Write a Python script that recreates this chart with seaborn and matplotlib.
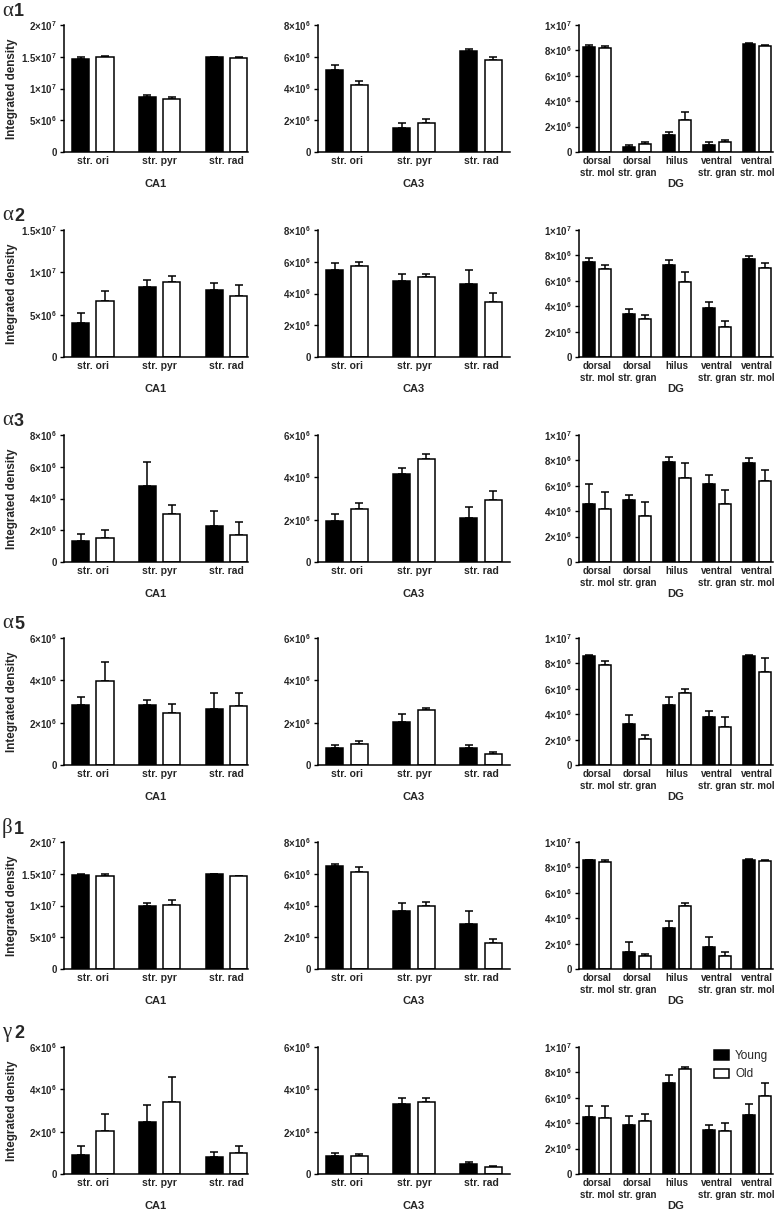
import numpy as np
import pandas as pd
import matplotlib
matplotlib.use("Agg")
import matplotlib.pyplot as plt
import seaborn as sns
from matplotlib.patches import Patch
from matplotlib.ticker import FuncFormatter

sns.set_theme(style="ticks")
plt.rcParams['font.family'] = ['Liberation Sans', 'DejaVu Sans']
plt.rcParams['mathtext.default'] = 'regular'

# ---------------- data (values in units of 1e6) ----------------
subunits = ["α1", "α2", "α3", "α5", "β1", "γ2"]
areas = ["CA1", "CA3", "DG"]
groups = ["Young", "Old"]
ca_regions = ["str. ori", "str. pyr", "str. rad"]
dg_regions = ["dorsal\nstr. mol", "dorsal\nstr. gran", "hilus",
              "ventral\nstr. gran", "ventral\nstr. mol"]

# alpha1
a1_ca1_young = [14.7, 8.7, 14.9];  a1_ca1_young_sem = [0.3, 0.3, 0.1]
a1_ca1_old = [14.9, 8.3, 14.8];    a1_ca1_old_sem = [0.15, 0.3, 0.2]
a1_ca3_young = [5.15, 1.5, 6.35];  a1_ca3_young_sem = [0.3, 0.3, 0.15]
a1_ca3_old = [4.2, 1.85, 5.8];     a1_ca3_old_sem = [0.3, 0.25, 0.2]
a1_dg_young = [8.3, 0.4, 1.3, 0.55, 8.5];  a1_dg_young_sem = [0.1, 0.15, 0.3, 0.2, 0.05]
a1_dg_old = [8.2, 0.6, 2.55, 0.8, 8.35];   a1_dg_old_sem = [0.15, 0.15, 0.6, 0.15, 0.1]
# alpha2
a2_ca1_young = [4.0, 8.3, 7.9];    a2_ca1_young_sem = [1.2, 0.75, 0.85]
a2_ca1_old = [6.6, 8.8, 7.2];      a2_ca1_old_sem = [1.2, 0.8, 1.3]
a2_ca3_young = [5.5, 4.8, 4.6];    a2_ca3_young_sem = [0.45, 0.45, 0.9]
a2_ca3_old = [5.75, 5.05, 3.45];   a2_ca3_old_sem = [0.25, 0.2, 0.6]
a2_dg_young = [7.45, 3.4, 7.25, 3.85, 7.7];  a2_dg_young_sem = [0.35, 0.35, 0.4, 0.45, 0.25]
a2_dg_old = [6.9, 3.0, 5.9, 2.4, 7.0];       a2_dg_old_sem = [0.35, 0.3, 0.8, 0.4, 0.4]
# alpha3
a3_ca1_young = [1.35, 4.8, 2.25];  a3_ca1_young_sem = [0.4, 1.5, 0.95]
a3_ca1_old = [1.5, 3.0, 1.7];      a3_ca1_old_sem = [0.5, 0.6, 0.8]
a3_ca3_young = [1.95, 4.15, 2.1];  a3_ca3_young_sem = [0.3, 0.3, 0.5]
a3_ca3_old = [2.5, 4.85, 2.95];    a3_ca3_old_sem = [0.3, 0.25, 0.4]
a3_dg_young = [4.6, 4.85, 7.9, 6.15, 7.8];   a3_dg_young_sem = [1.55, 0.45, 0.35, 0.7, 0.4]
a3_dg_old = [4.15, 3.65, 6.6, 4.55, 6.35];   a3_dg_old_sem = [1.35, 1.1, 1.2, 1.15, 0.9]
# alpha5
a5_ca1_young = [2.85, 2.85, 2.65]; a5_ca1_young_sem = [0.35, 0.2, 0.75]
a5_ca1_old = [3.95, 2.45, 2.8];    a5_ca1_old_sem = [0.9, 0.45, 0.6]
a5_ca3_young = [0.8, 2.05, 0.8];   a5_ca3_young_sem = [0.15, 0.35, 0.15]
a5_ca3_old = [1.0, 2.6, 0.5];      a5_ca3_old_sem = [0.15, 0.1, 0.1]
a5_dg_young = [8.55, 3.2, 4.7, 3.75, 8.6];   a5_dg_young_sem = [0.15, 0.75, 0.65, 0.5, 0.05]
a5_dg_old = [7.9, 2.05, 5.65, 3.0, 7.35];    a5_dg_old_sem = [0.3, 0.3, 0.35, 0.75, 1.1]
# beta1
b1_ca1_young = [14.8, 9.9, 14.9];  b1_ca1_young_sem = [0.1, 0.5, 0.1]
b1_ca1_old = [14.7, 10.1, 14.6];   b1_ca1_old_sem = [0.3, 0.7, 0.1]
b1_ca3_young = [6.5, 3.65, 2.85];  b1_ca3_young_sem = [0.1, 0.5, 0.8]
b1_ca3_old = [6.1, 3.95, 1.65];    b1_ca3_old_sem = [0.35, 0.25, 0.25]
b1_dg_young = [8.55, 1.35, 3.25, 1.7, 8.6];  b1_dg_young_sem = [0.05, 0.8, 0.55, 0.8, 0.05]
b1_dg_old = [8.4, 1.05, 5.0, 1.05, 8.5];     b1_dg_old_sem = [0.15, 0.1, 0.2, 0.3, 0.05]
# gamma2
g2_ca1_young = [0.9, 2.45, 0.8];   g2_ca1_young_sem = [0.4, 0.8, 0.25]
g2_ca1_old = [2.05, 3.4, 0.97];    g2_ca1_old_sem = [0.8, 1.2, 0.33]
g2_ca3_young = [0.85, 3.3, 0.48];  g2_ca3_young_sem = [0.15, 0.3, 0.1]
g2_ca3_old = [0.85, 3.4, 0.35];    g2_ca3_old_sem = [0.1, 0.2, 0.05]
g2_dg_young = [4.45, 3.85, 7.2, 3.45, 4.65]; g2_dg_young_sem = [0.9, 0.7, 0.6, 0.4, 0.85]
g2_dg_old = [4.4, 4.15, 8.25, 3.4, 6.15];    g2_dg_old_sem = [0.95, 0.55, 0.2, 0.65, 1.0]

# y-axis maxima (units of 1e6) per row
ymax_ca1 = [20, 15, 8, 6, 20, 6]
ymax_ca3 = [8, 8, 6, 6, 8, 6]
ymax_dg = [10, 10, 10, 10, 10, 10]

g = globals()
prefixes = ["a1", "a2", "a3", "a5", "b1", "g2"]
DATA = {}
for sub, p in zip(subunits, prefixes):
    for area in areas:
        k = f"{p}_{area.lower()}"
        DATA[(sub, area)] = (g[k + "_young"], g[k + "_young_sem"],
                             g[k + "_old"], g[k + "_old_sem"])

SCALE = 1e6

def sci(v, pos):
    if v <= 1e-3:
        return "0" if abs(v) <= 1e-3 else ""
    e = int(np.floor(np.log10(v) + 1e-9))
    m = v / 10 ** e
    return f"{m:g}×10$^{{{e}}}$"

# ---------------- layout ----------------
W, H = 775, 1210
fig = plt.figure(figsize=(W / 100, H / 100), dpi=100)
col_px = [(64, 184), (318, 192), (579, 194)]
row_tops = [25, 230, 435, 638, 842, 1047]
ax_h = 127
xlims = [(-0.43, 2.32), (-0.43, 2.43), (-0.45, 4.4)]
ymaxs = [ymax_ca1, ymax_ca3, ymax_dg]

LW = 1.1
for r, sub in enumerate(subunits):
    for c, area in enumerate(areas):
        left, width = col_px[c]
        ax = fig.add_axes([left / W, 1 - (row_tops[r] + ax_h) / H, width / W, ax_h / H])
        cats = dg_regions if area == "DG" else ca_regions
        ym, ye, om, oe = DATA[(sub, area)]
        n = len(cats)
        df = pd.DataFrame({
            "region": cats * 2,
            "group": ["Young"] * n + ["Old"] * n,
            "value": [v * SCALE for v in list(ym) + list(om)],
        })
        if area == "DG":
            bw, bg = 0.8, 0.3
        else:
            bw, bg = 0.73, 0.3
        sns.barplot(data=df, x="region", y="value", hue="group", order=cats,
                    hue_order=groups, palette={"Young": "black", "Old": "white"},
                    edgecolor="black", linewidth=LW, width=bw, gap=bg,
                    errorbar=None, legend=False, ax=ax, zorder=2)
        for cont, errs in zip(ax.containers, [ye, oe]):
            for bar, e in zip(cont, errs):
                x = bar.get_x() + bar.get_width() / 2
                h = bar.get_height()
                ax.errorbar(x, h, yerr=[[0], [e * SCALE]], fmt="none", ecolor="black",
                            elinewidth=LW, capsize=3.2, capthick=LW, zorder=1)
        ymax = ymaxs[c][r] * SCALE
        step = 5e6 if ymaxs[c][r] >= 15 else 2e6
        ax.set_ylim(0, ymax)
        ax.set_yticks(np.arange(0, ymax + 1, step))
        ax.yaxis.set_major_formatter(FuncFormatter(sci))
        ax.set_xlim(*xlims[c])
        sns.despine(ax=ax)
        for s in ["left", "bottom"]:
            ax.spines[s].set_linewidth(LW)
            ax.spines[s].set_color("black")
        ax.tick_params(axis="x", length=0, pad=3,
                       labelsize=(7.0 if area == "DG" else 7.5))
        ax.tick_params(axis="y", length=3, width=1, pad=2, labelsize=7, color="black")
        for t in ax.get_xticklabels():
            t.set_fontweight("bold")
        for t in ax.get_yticklabels():
            t.set_fontweight("bold")
        ax.set_xlabel(area, fontsize=8, fontweight="bold")
        ax.xaxis.set_label_coords(0.5, -0.21)
        if c == 0:
            ax.set_ylabel("Integrated density", fontsize=8.4, fontweight="bold")
            ax.yaxis.set_label_coords((18 - 64) / 184, 0.5)
        else:
            ax.set_ylabel("")
        if r == len(subunits) - 1 and c == 2:
            handles = [Patch(facecolor="black", edgecolor="black", linewidth=LW),
                       Patch(facecolor="white", edgecolor="black", linewidth=LW)]
            ax.legend(handles, groups, loc="upper right", bbox_to_anchor=(1.03, 1.06),
                      frameon=False, fontsize=8.5, handlelength=1.3, handleheight=0.9,
                      labelspacing=0.55, handletextpad=0.5)

    yc = 1 - (row_tops[r] - 14) / H
    fig.text(2 / W, yc, sub[0], family="Liberation Serif", fontsize=15, va="center", ha="left")
    fig.text(14 / W, yc - 1 / H, sub[1:], fontsize=13, fontweight="bold", va="center", ha="left")

fig.savefig("out.png", dpi=100)
